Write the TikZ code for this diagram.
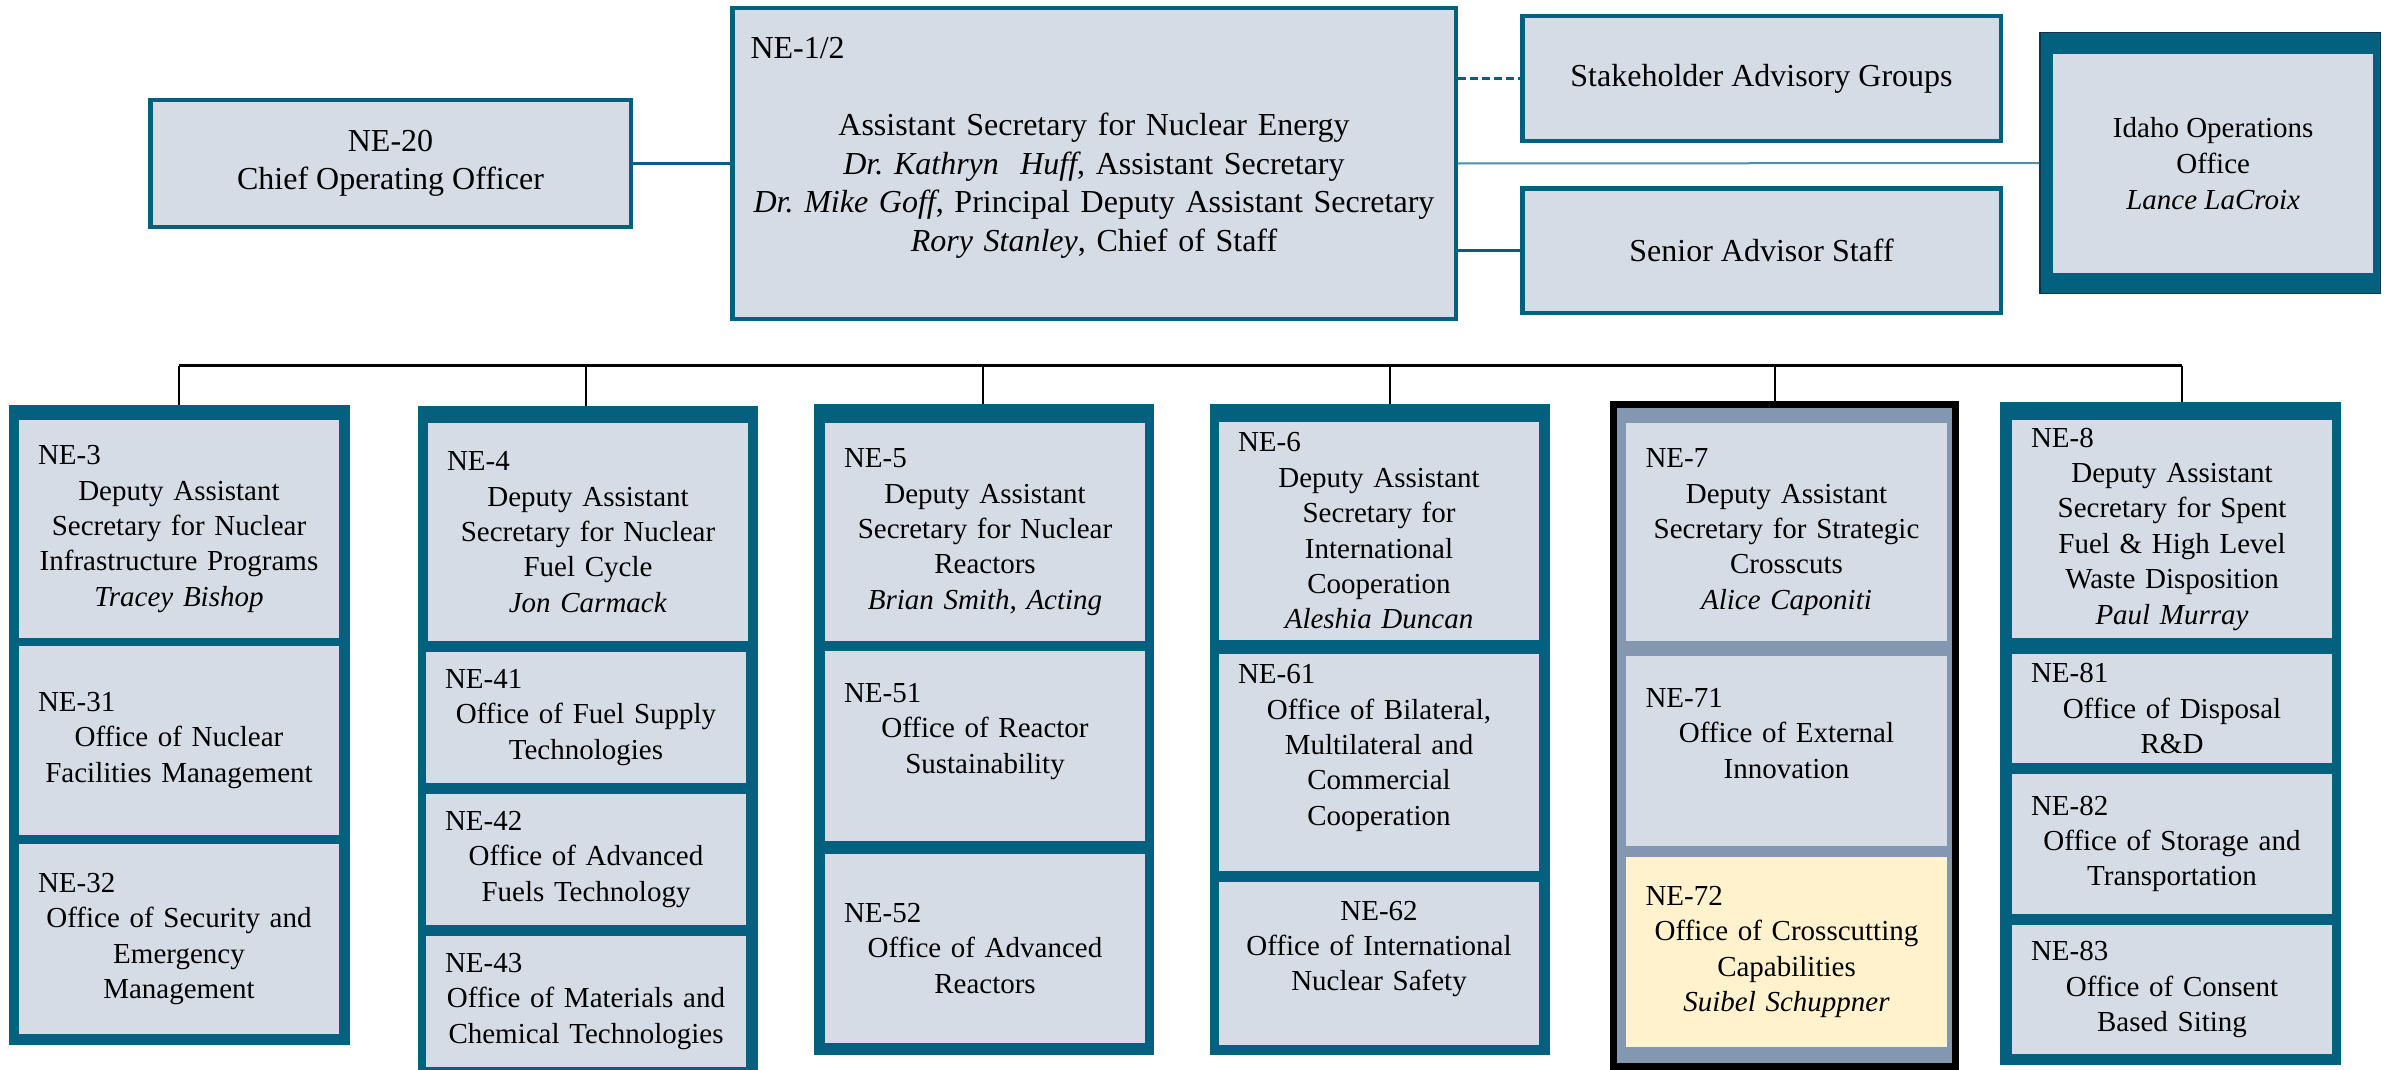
\documentclass[tikz,border=0pt]{standalone}
\usepackage{fontspec}
\setmainfont{Liberation Serif}
\frenchspacing

\definecolor{neteal}{HTML}{04607F}
\definecolor{nefill}{HTML}{D6DCE5}
\definecolor{neslate}{HTML}{8497B0}
\definecolor{neyellow}{HTML}{FFF2CC}
\definecolor{nedark}{HTML}{10344A}
\definecolor{nethin}{HTML}{4A8FA8}

% office code on the left of the first line
\newcommand{\nelabel}[1]{\makebox[\linewidth][l]{#1}}

\tikzset{
  topbox/.style={draw=neteal, line width=4.5pt, fill=nefill, inner sep=0pt, anchor=north west,
    align=center, font=\fontsize{32pt}{38.5pt}\selectfont},
  column/.style={fill=neteal, inner sep=0pt, outer sep=0pt, anchor=north west, minimum width=340pt},
  office/.style={fill=nefill, inner sep=0pt, outer sep=0pt, anchor=north west, minimum width=320pt,
    text width=282pt, align=center, font=\fontsize{29pt}{35.4pt}\selectfont},
  link/.style={draw=neteal, line width=3pt},
  bus/.style={draw=black, line width=2.5pt},
}

\begin{document}
\begin{tikzpicture}[x=1pt,y=-1pt]
  \useasboundingbox (0,0) rectangle (2389,1070);

  % Top row
  \node[topbox, minimum width=480.5pt, minimum height=126.5pt] (coo) at (148,98)
    {NE-20\\Chief Operating Officer};
  \node[topbox, minimum width=723.5pt, minimum height=310.5pt, text width=687pt] (asne) at (730,6)
    {\nelabel{NE-1/2}\\\mbox{}\\Assistant Secretary for Nuclear Energy\\
     \textit{Dr. Kathryn~~Huff}, Assistant Secretary\\
     \textit{Dr. Mike Goff}, Principal Deputy Assistant Secretary\\
     \textit{Rory Stanley}, Chief of Staff\\\mbox{}};
  \node[topbox, minimum width=478.5pt, minimum height=124.5pt] (sag) at (1520,14) {Stakeholder Advisory Groups};
  \node[topbox, minimum width=478.5pt, minimum height=124.5pt] (sas) at (1520,186) {Senior Advisor Staff};
  \node[fill=neteal, draw=nedark, line width=1.5pt, anchor=north west, inner sep=0pt,
    minimum width=340.5pt, minimum height=260.5pt] (idaho) at (2039,32) {};
  \node[fill=nefill, anchor=north west, inner sep=0pt, minimum width=320pt, minimum height=219pt,
    align=center, font=\fontsize{29pt}{36pt}\selectfont] (idahoin) at (2053,54)
    {Idaho Operations\\Office\\\textit{Lance LaCroix}};

  % Top connectors
  \draw[link] (coo.east) -- (asne.west);
  \draw[link, dash pattern=on 8pt off 4pt] (sag.west -| asne.east) -- (sag.west);
  \draw[link] (sas.west -| asne.east) -- (sas.west);
  \draw[draw=nethin, line width=2pt] (asne.east) -- (idaho.west);

  % Columns
  \node[column, minimum width=341pt, minimum height=640pt] (col3) at (9,405) {};
  \node[column, minimum height=664pt] (col4) at (418,406) {};
  \node[column, minimum height=651pt] (col5) at (814,404) {};
  \node[column, minimum height=651pt] (col6) at (1210,404) {};
  \node[column, fill=neslate, draw=black, line width=7pt, minimum width=342pt, minimum height=662pt]
    (col7) at (1613.5,404.5) {};
  \node[column, minimum width=341pt, minimum height=663pt] (col8) at (2000,402) {};

  % Bus and drops
  \foreach \x/\c in {179/col3, 586/col4, 983/col5, 1390/col6, 1775/col7, 2182/col8} {
    \coordinate (b\c) at (\x,365.5);
    \draw[line width=2pt] (b\c) -- (b\c |- \c.north);
  }
  \draw[bus] (bcol3) -- (bcol8);

  % NE-3
  \node[office, minimum height=218pt] (ne3) at (19,420)
    {\nelabel{NE-3}\\Deputy Assistant\\Secretary for Nuclear\\Infrastructure Programs\\\textit{Tracey Bishop}};
  \node[office, minimum height=189pt] (ne31) at (19,646)
    {\nelabel{NE-31}\\Office of Nuclear\\Facilities Management};
  \node[office, minimum height=190pt] (ne32) at (19,844)
    {\nelabel{NE-32}\\Office of Security and\\Emergency\\Management};

  % NE-4
  \node[office, minimum height=218pt] (ne4) at (428,423)
    {\nelabel{NE-4}\\Deputy Assistant\\Secretary for Nuclear\\Fuel Cycle\\\textit{Jon Carmack}};
  \node[office, minimum height=131pt] (ne41) at (426,652)
    {\nelabel{NE-41}\\Office of Fuel Supply\\Technologies};
  \node[office, minimum height=131pt] (ne42) at (426,794)
    {\nelabel{NE-42}\\Office of Advanced\\Fuels Technology};
  \node[office, minimum height=131pt] (ne43) at (426,936)
    {\nelabel{NE-43}\\Office of Materials and\\Chemical Technologies};

  % NE-5
  \node[office, minimum height=218pt] (ne5) at (825,423)
    {\nelabel{NE-5}\\Deputy Assistant\\Secretary for Nuclear\\Reactors\\\textit{Brian Smith, Acting}};
  \node[office, minimum height=190pt] (ne51) at (825,651)
    {\nelabel{NE-51}\\Office of Reactor\\Sustainability\\\mbox{}};
  \node[office, minimum height=189pt] (ne52) at (825,854)
    {\nelabel{NE-52}\\Office of Advanced\\Reactors};

  % NE-6
  \node[office, minimum height=218pt] (ne6) at (1219,422)
    {\nelabel{NE-6}\\Deputy Assistant\\Secretary for\\International\\Cooperation\\\textit{Aleshia Duncan}};
  \node[office, minimum height=217pt] (ne61) at (1219,654)
    {\nelabel{NE-61}\\Office of Bilateral,\\Multilateral and\\Commercial\\Cooperation\\\mbox{}};
  \node[office, minimum height=163pt] (ne62) at (1219,882)
    {NE-62\\Office of International\\Nuclear Safety\\\mbox{}};

  % NE-7
  \node[office, minimum width=321pt, minimum height=218pt] (ne7) at (1626,423)
    {\nelabel{NE-7}\\Deputy Assistant\\Secretary for Strategic\\Crosscuts\\\textit{Alice Caponiti}};
  \node[office, minimum width=321pt, minimum height=190pt] (ne71) at (1626,656)
    {\nelabel{NE-71}\\Office of External\\Innovation\\\mbox{}};
  \node[office, fill=neyellow, minimum width=321pt, minimum height=190pt] (ne72) at (1626,857)
    {\nelabel{NE-72}\\Office of Crosscutting\\Capabilities\\\textit{Suibel Schuppner}};

  % NE-8
  \node[office, minimum height=218pt] (ne8) at (2012,420)
    {\nelabel{NE-8}\\Deputy Assistant\\Secretary for Spent\\Fuel \& High Level\\Waste Disposition\\\textit{Paul Murray}};
  \node[office, minimum height=109pt] (ne81) at (2012,654)
    {\nelabel{NE-81}\\Office of Disposal\\R\&D};
  \node[office, minimum height=140pt] (ne82) at (2012,774)
    {\nelabel{NE-82}\\Office of Storage and\\Transportation};
  \node[office, minimum height=129pt] (ne83) at (2012,925)
    {\nelabel{NE-83}\\Office of Consent\\Based Siting};
\end{tikzpicture}
\end{document}
